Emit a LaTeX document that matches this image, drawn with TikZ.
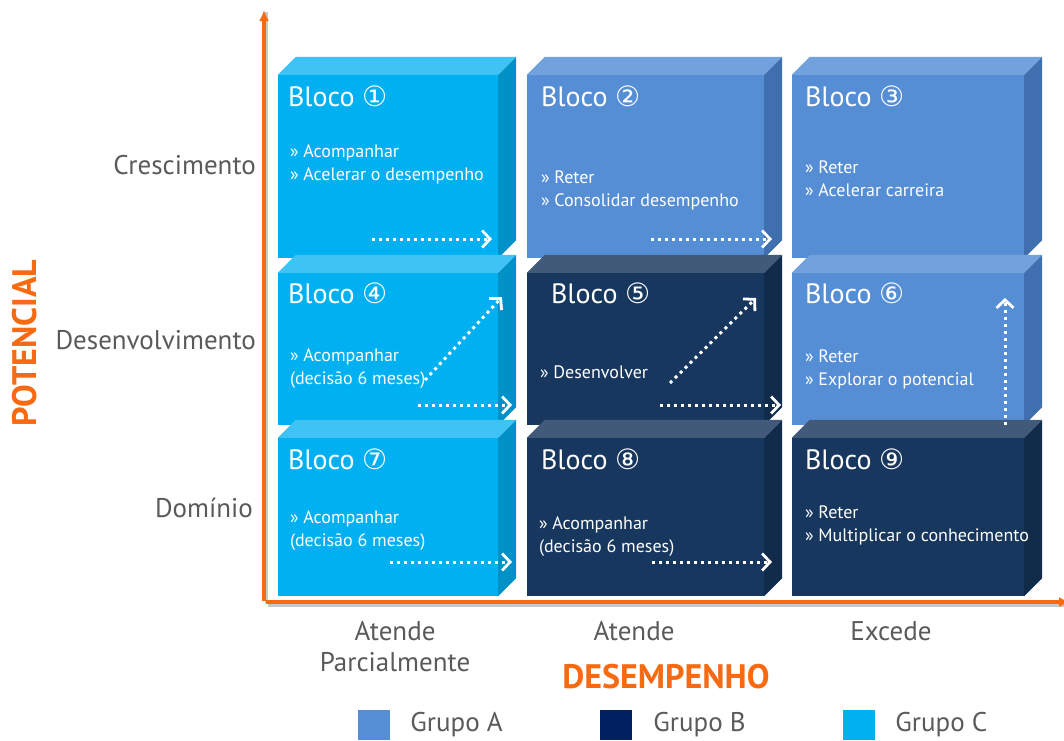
\documentclass[tikz,border=0pt]{standalone}
\usepackage{fontspec}
\setmainfont{PT Sans}
\newfontfamily\simbolo{DejaVu Sans}
\usetikzlibrary{positioning}
\usetikzlibrary{arrows.meta}
\definecolor{laranja}{HTML}{F76A12}
\definecolor{cinzatxt}{HTML}{5A5A5A}
\definecolor{frenteA}{HTML}{558ED5}
\definecolor{topoA}{HTML}{72A2DE}
\definecolor{ladoA}{HTML}{3F6FAF}
\definecolor{frenteB}{HTML}{17375E}
\definecolor{topoB}{HTML}{415A7A}
\definecolor{ladoB}{HTML}{112B4B}
\definecolor{frenteC}{HTML}{00B0F0}
\definecolor{topoC}{HTML}{3EC3F4}
\definecolor{ladoC}{HTML}{0091C7}
\definecolor{legB}{HTML}{002060}
\tikzset{
    blocoA/.style = {rectangle, inner sep=0pt, fill=frenteA},
    blocoB/.style = {rectangle, inner sep=0pt, fill=frenteB},
    blocoC/.style = {rectangle, inner sep=0pt, fill=frenteC},
    col1/.style = {minimum width=220pt},
    col2/.style = {minimum width=237pt},
    col3/.style = {minimum width=232pt},
    lin1/.style = {minimum height=183pt},
    lin2/.style = {minimum height=152pt},
    lin3/.style = {minimum height=158pt},
    titulo/.style = {inner sep=0pt, text=white, font=\fontsize{28}{30}\selectfont},
    itens/.style = {align=left, inner sep=0pt, text=white, font=\fontsize{18}{22.5}\selectfont},
    rotulo/.style = {text=cinzatxt, inner sep=0pt, font=\fontsize{27}{31}\selectfont},
    eixotit/.style = {text=laranja, inner sep=0pt, font=\fontsize{34}{36}\selectfont\bfseries},
    eixo/.style = {laranja, line width=3.5pt, -{Latex[length=11pt,width=10pt]}},
    sombra/.style = {black!22, line width=3pt},
    seta/.style = {white, line width=3pt, dash pattern=on 3pt off 4pt, -{Straight Barb[length=8pt,width=17pt,line width=2.8pt]}},
    legenda/.style = {rectangle, inner sep=0pt, minimum width=32pt, minimum height=30pt}
}
\newcommand{\faces}[2]{%
  \fill[topo#2] (#1.north west) -- ++(18,-18) -- ([shift={(18,-18)}]#1.north east) -- (#1.north east) -- cycle;
  \fill[lado#2] (#1.north east) -- ([shift={(18,-18)}]#1.north east) -- ([shift={(18,-18)}]#1.south east) -- (#1.south east) -- cycle;
}
\newcommand{\circulo}[1]{{\simbolo #1}}

\begin{document}
\begin{tikzpicture}[x=1pt, y=-1pt]
\useasboundingbox (0,0) rectangle (1064,740);
% eixos
\coordinate (origem) at (264,601);
\coordinate (topo) at (264,10);
\coordinate (canto) at (266,602);
\coordinate (fim) at (1070,602);
\draw[sombra] ([shift={(2,3)}]canto) -- ([shift={(2,3)}]fim);
\draw[sombra] ([shift={(2,2)}]origem) -- ([shift={(2,2)}]topo);
\draw[eixo] (origem) -- (topo);
\draw[eixo] (canto) -- (fim);
% linha 1
\node[blocoC, col1, lin1] (b1) at (388,166.5) {};
\faces{b1}{C}
\node[blocoA, col2, lin1] (b2) at (645.5,166.5) {};
\faces{b2}{A}
\node[blocoA, col3, lin1] (b3) at (908,166.5) {};
\faces{b3}{A}
% linha 2
\node[blocoC, col1, lin2] (b4) at (388,349) {};
\faces{b4}{C}
\node[blocoB, col2, lin2] (b5) at (645.5,349) {};
\faces{b5}{B}
\node[blocoA, col3, lin2] (b6) at (908,349) {};
\faces{b6}{A}
% linha 3
\node[blocoC, col1, lin3] (b7) at (388,517) {};
\faces{b7}{C}
\node[blocoB, col2, lin3] (b8) at (645.5,517) {};
\faces{b8}{B}
\node[blocoB, col3, lin3] (b9) at (908,517) {};
\faces{b9}{B}
% titulos
\node[titulo, below right=11pt and 10pt of b1.north west] (t1) {Bloco \circulo{①}};
\node[titulo, below right=11pt and 14pt of b2.north west] (t2) {Bloco \circulo{②}};
\node[titulo, below right=11pt and 13pt of b3.north west] (t3) {Bloco \circulo{③}};
\node[titulo, below right=10pt and 10pt of b4.north west] (t4) {Bloco \circulo{④}};
\node[titulo, below right=10pt and 24pt of b5.north west] (t5) {Bloco \circulo{⑤}};
\node[titulo, below right=10pt and 13pt of b6.north west] (t6) {Bloco \circulo{⑥}};
\node[titulo, below right=11pt and 10pt of b7.north west] (t7) {Bloco \circulo{⑦}};
\node[titulo, below right=11pt and 14pt of b8.north west] (t8) {Bloco \circulo{⑧}};
\node[titulo, below right=11pt and 13pt of b9.north west] (t9) {Bloco \circulo{⑨}};
% itens
\node[itens, below right=70pt and 12pt of b1.north west] (i1) {» Acompanhar\\» Acelerar o desempenho};
\node[itens, below right=96pt and 14pt of b2.north west] (i2) {» Reter\\» Consolidar desempenho};
\node[itens, below right=86pt and 13pt of b3.north west] (i3) {» Reter\\» Acelerar carreira};
\node[itens, below right=76pt and 12pt of b4.north west] (i4) {» Acompanhar\\(decisão 6 meses)};
\node[itens, below right=93pt and 13pt of b5.north west] (i5) {» Desenvolver};
\node[itens, below right=77pt and 13pt of b6.north west] (i6) {» Reter\\» Explorar o potencial};
\node[itens, below right=73pt and 12pt of b7.north west] (i7) {» Acompanhar\\(decisão 6 meses)};
\node[itens, below right=79pt and 12pt of b8.north west] (i8) {» Acompanhar\\(decisão 6 meses)};
\node[itens, below right=68pt and 13pt of b9.north west] (i9) {» Reter\\» Multiplicar o conhecimento};
% setas pontilhadas
\coordinate (s1a) at (372,239);  \coordinate (s1b) at (492,239);
\coordinate (s2a) at (651,239);  \coordinate (s2b) at (772,239);
\coordinate (s4a) at (425,380);  \coordinate (s4b) at (502,297);
\coordinate (s4c) at (418,405);  \coordinate (s4d) at (512,405);
\coordinate (s5a) at (670,383);  \coordinate (s5b) at (756,298);
\coordinate (s5c) at (660,405);  \coordinate (s5d) at (781,405);
\coordinate (s6a) at (1005,425); \coordinate (s6b) at (1005,298);
\coordinate (s7a) at (390,562);  \coordinate (s7b) at (512,562);
\coordinate (s8a) at (652,562);  \coordinate (s8b) at (772,562);
\draw[seta] (s1a) -- (s1b);
\draw[seta] (s2a) -- (s2b);
\draw[seta] (s4a) -- (s4b);
\draw[seta] (s4c) -- (s4d);
\draw[seta] (s5a) -- (s5b);
\draw[seta] (s5c) -- (s5d);
\draw[seta] (s6a) -- (s6b);
\draw[seta] (s7a) -- (s7b);
\draw[seta] (s8a) -- (s8b);
% rotulos dos eixos
\node[rotulo, anchor=east] (cres) at (256,165) {Crescimento};
\node[rotulo, anchor=east] (desenv) at (256,340) {Desenvolvimento};
\node[rotulo, anchor=east] (dominio) at (253,508) {Domínio};
\node[eixotit, rotate=90] (potencial) at (25,343) {POTENCIAL};
\node[rotulo, align=center] (parcial) at (395,646.5) {Atende\\Parcialmente};
\node[rotulo] (atende) at (634,631) {Atende};
\node[rotulo] (excede) at (891,631) {Excede};
\node[eixotit] (desemp) at (666,677) {DESEMPENHO};
% legenda
\node[legenda, fill=frenteA] (qA) at (374,725) {};
\node[rotulo, right=20pt of qA] (gA) {Grupo A};
\node[legenda, fill=legB] (qB) at (616,725) {};
\node[rotulo, right=21pt of qB] (gB) {Grupo B};
\node[legenda, fill=frenteC] (qC) at (859,725) {};
\node[rotulo, right=20pt of qC] (gC) {Grupo C};
\end{tikzpicture}
\end{document}
